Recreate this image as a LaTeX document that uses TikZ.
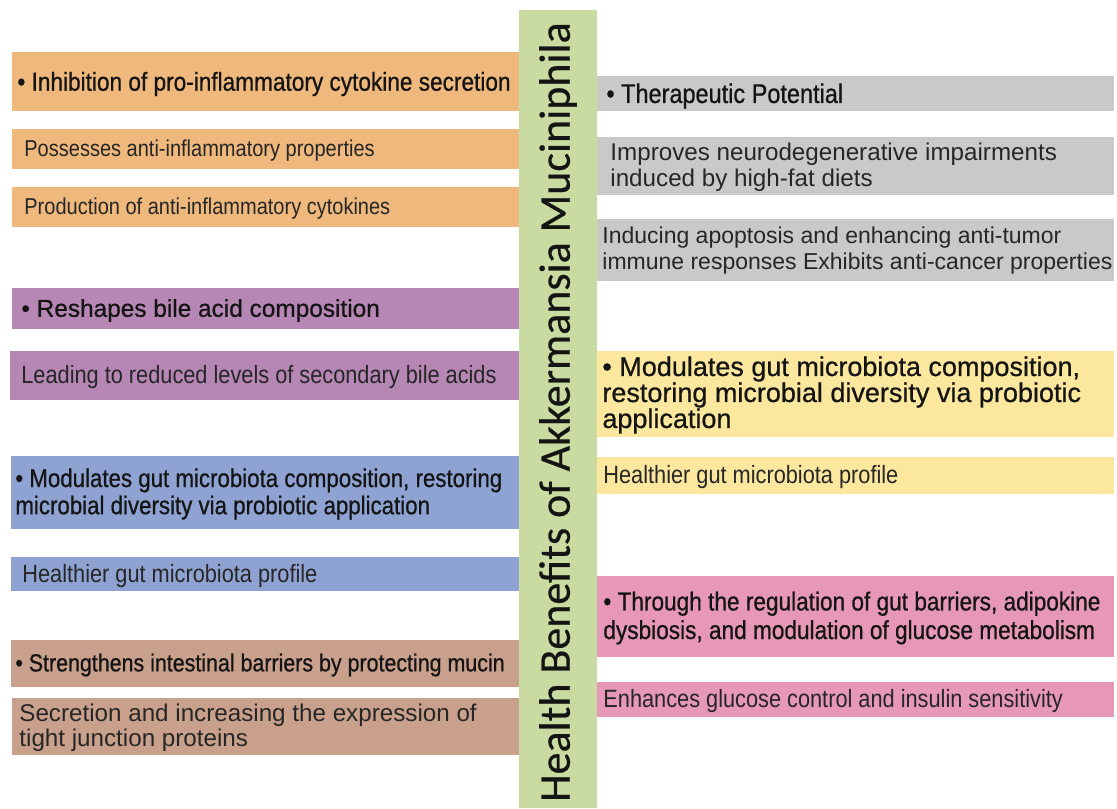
\documentclass[tikz,border=0pt]{standalone}
\usepackage{fontspec}
\setmainfont{Liberation Sans}
\newfontfamily\narrowsf[FakeStretch=0.87]{Liberation Sans}
\newfontfamily\narrowhd[FakeStretch=0.87, FakeBold=0.7]{Liberation Sans}
\newfontfamily\headsf[FakeBold=0.7]{Liberation Sans}
\newfontfamily\titlesf[FakeBold=0.5]{Carlito}
\newcommand\boxsize[2]{\fontsize{#1}{#2}\selectfont}

\definecolor{orng}{HTML}{EFB87C}
\definecolor{purp}{HTML}{B686B5}
\definecolor{blu}{HTML}{8FA3D3}
\definecolor{brwn}{HTML}{C9A08B}
\definecolor{gry}{HTML}{C9C9C9}
\definecolor{yllw}{HTML}{FCE79E}
\definecolor{pnk}{HTML}{E798B6}
\definecolor{grn}{HTML}{CADBA2}

\begin{document}
\begin{tikzpicture}[x=0.5pt, y=-0.5pt,
    txt/.style={anchor=west, inner sep=0pt, align=left, text=black!85},
    head/.style={txt, text=black!92}]
    \useasboundingbox[fill=white] (0,0) rectangle (1117,808);

    % left column
    \fill[orng] (12,52) rectangle (519,111);
    \fill[orng] (12,129) rectangle (519,169);
    \fill[orng] (12,187) rectangle (519,227);
    \fill[purp] (12,288) rectangle (519,329);
    \fill[purp] (10,351) rectangle (519,400);
    \fill[blu] (11,456) rectangle (519,529);
    \fill[blu] (11,557) rectangle (519,591);
    \fill[brwn] (11,640) rectangle (519,687);
    \fill[brwn] (12,698) rectangle (519,755);

    \node[head, font=\narrowhd\boxsize{13}{14}] (inhib) at (17,84) {• Inhibition of pro-inflammatory cytokine secretion};
    \node[txt, font=\narrowsf\boxsize{11.5}{12.5}] (antiinf) at (24,151) {Possesses anti-inflammatory properties};
    \node[txt, font=\narrowsf\boxsize{11.5}{12.5}] (cytok) at (24,209) {Production of anti-inflammatory cytokines};
    \node[head, font=\headsf\boxsize{12.2}{13}] (bile) at (21,310.5) {• Reshapes bile acid composition};
    \node[txt, font=\narrowsf\boxsize{12.5}{13.5}] (bileacid) at (21,377) {Leading to reduced levels of secondary bile acids};
    \node[head, font=\narrowhd\boxsize{12.8}{13.6}] (microL) at (15,494) {• Modulates gut microbiota composition, restoring\\microbial diversity via probiotic application};
    \node[txt, font=\narrowsf\boxsize{12.5}{13.5}] (profileL) at (22,576) {Healthier gut microbiota profile};
    \node[head, font=\narrowhd\boxsize{12.3}{13}] (barrier) at (15,665) {• Strengthens intestinal barriers by protecting mucin};
    \node[txt, font=\boxsize{12.1}{12.5}] (tight) at (19,727.5) {Secretion and increasing the expression of\\tight junction proteins};

    % right column
    \fill[gry] (596,76) rectangle (1114,111);
    \fill[gry] (596,137) rectangle (1114,195);
    \fill[gry] (596,219) rectangle (1114,281);
    \fill[yllw] (596,351) rectangle (1114,437);
    \fill[yllw] (596,457) rectangle (1114,494);
    \fill[pnk] (596,576) rectangle (1114,657);
    \fill[pnk] (596,682) rectangle (1114,717);

    \node[head, font=\narrowhd\boxsize{13.5}{14}] (therap) at (606,96) {• Therapeutic Potential};
    \node[txt, font=\boxsize{12.1}{12.8}] (neuro) at (610,167) {Improves neurodegenerative impairments\\induced by high-fat diets};
    \node[txt, font=\boxsize{11.5}{13}] (tumor) at (602,251) {Inducing apoptosis and enhancing anti-tumor\\immune responses Exhibits anti-cancer properties};
    \node[head, font=\headsf\boxsize{13.5}{13}] (microR) at (602,395) {• Modulates gut microbiota composition,\\restoring microbial diversity via probiotic\\application};
    \node[txt, font=\narrowsf\boxsize{12.5}{13.5}] (profileR) at (603,477) {Healthier gut microbiota profile};
    \node[head, font=\narrowhd\boxsize{13}{14.3}] (glucose) at (603,618) {• Through the regulation of gut barriers, adipokine\\dysbiosis, and modulation of glucose metabolism};
    \node[txt, font=\narrowsf\boxsize{12.5}{13.5}] (insulin) at (603,701) {Enhances glucose control and insulin sensitivity};

    % centre bar
    \fill[grn] (519,10) rectangle (597,808);
    \node[rotate=90, inner sep=0pt, text=black!92, font=\titlesf\boxsize{22}{22}] (title) at (558,412) {Health Benefits of Akkermansia Muciniphila};
\end{tikzpicture}
\end{document}
